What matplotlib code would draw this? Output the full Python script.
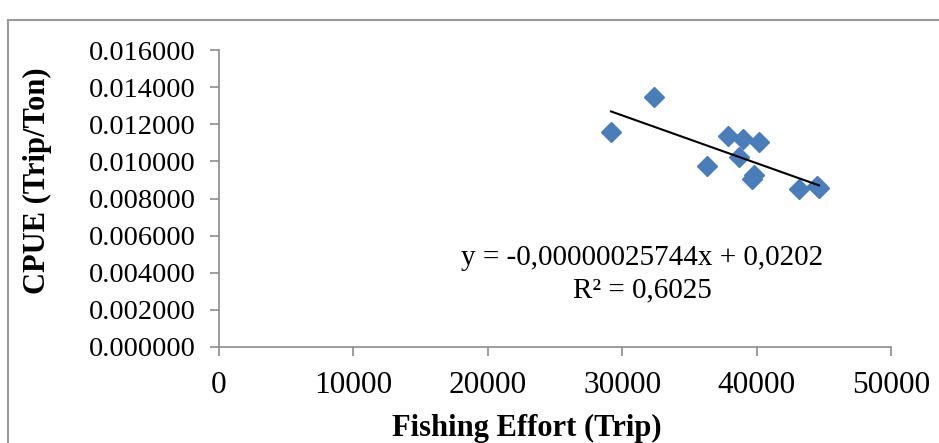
import matplotlib
matplotlib.use("Agg")
import matplotlib.pyplot as plt
import numpy as np
from matplotlib.lines import Line2D

# Data
effort = [29167, 32366, 36310, 37872, 38988, 38690, 40179, 39807, 39658, 43155, 44494, 44643]
cpue = [0.01158, 0.01347, 0.00975, 0.01137, 0.01121, 0.01024, 0.01104, 0.00927, 0.00905, 0.00851, 0.00867, 0.00857]
slope = -0.00000025744
intercept = 0.0202
eq_text = "y = -0,00000025744x + 0,0202"
r2_text = "R² = 0,6025"
x_ticks = [0, 10000, 20000, 30000, 40000, 50000]
y_ticks = [0.000, 0.002, 0.004, 0.006, 0.008, 0.010, 0.012, 0.014, 0.016]
x_label = "Fishing Effort (Trip)"
y_label = "CPUE (Trip/Ton)"

plt.rcParams['font.family'] = ['Liberation Serif', 'DejaVu Serif']

W, H = 939, 443
fig = plt.figure(figsize=(W / 100, H / 100), dpi=100)
fig.patch.set_facecolor('white')

ax = fig.add_axes([219 / W, 1 - 347 / H, (891 - 219) / W, (347 - 50) / H])

ax.plot(effort, cpue, linestyle='none', marker='D', markersize=9.8,
        color='#4A7EBB', markeredgecolor='#4A7EBB', zorder=3)

xs = np.array([min(effort), max(effort)])
ax.plot(xs, slope * xs + intercept, color='black', lw=1.5, zorder=4)

ax.set_xlim(0, 50000)
ax.set_ylim(0, 0.016)
ax.set_xticks(x_ticks)
ax.set_xticklabels([str(t) for t in x_ticks])
ax.set_yticks(y_ticks)
ax.set_yticklabels([f"{t:.6f}" for t in y_ticks])

for s in ['top', 'right']:
    ax.spines[s].set_visible(False)
for s in ['left', 'bottom']:
    ax.spines[s].set_color('#8C8C8C')
    ax.spines[s].set_linewidth(1.2)

ax.tick_params(axis='both', direction='out', length=6.5, width=1.2, color='#8C8C8C')
ax.tick_params(axis='x', labelsize=22.5, pad=10.5)
ax.tick_params(axis='y', labelsize=20.5, pad=10)

ax.set_xlabel(x_label, fontsize=22, fontweight='bold', va='center')
ax.xaxis.set_label_coords((527 - 219) / 672, (347 - 428) / 297)
ax.set_ylabel(y_label, fontsize=22, fontweight='bold', va='center')
ax.yaxis.set_label_coords((37 - 219) / 672, (347 - 181) / 297)

ax.text(31470, 0.00480, eq_text, fontsize=21, ha='center', va='center')
ax.text(31470, 0.00307, r2_text, fontsize=21, ha='center', va='center')

# outer chart frame
fig.add_artist(Line2D([8 / W, 8 / W], [0, 1 - 20 / H], transform=fig.transFigure,
                      color='#9A9A9A', lw=1.5))
fig.add_artist(Line2D([8 / W, 1], [1 - 20 / H, 1 - 20 / H], transform=fig.transFigure,
                      color='#9A9A9A', lw=1.5))

fig.savefig('out.png', dpi=100, facecolor='white')
